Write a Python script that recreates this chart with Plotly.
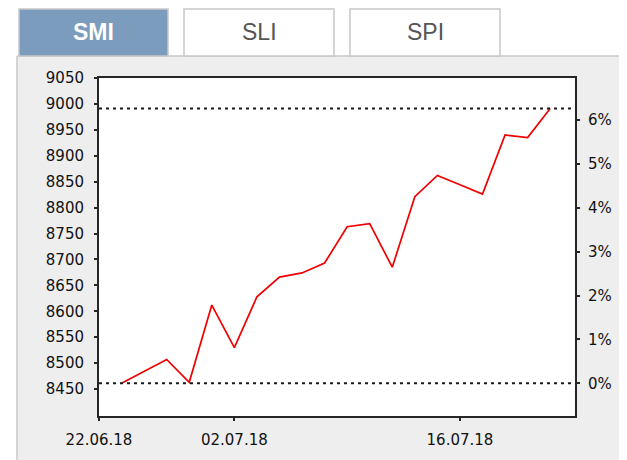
import plotly.graph_objects as go

# ---- data ----
axis_dates = ["22.06.18", "25.06.18", "26.06.18", "27.06.18", "28.06.18", "29.06.18",
              "02.07.18", "03.07.18", "04.07.18", "05.07.18", "06.07.18", "09.07.18",
              "10.07.18", "11.07.18", "12.07.18", "13.07.18", "16.07.18", "17.07.18",
              "18.07.18", "19.07.18", "20.07.18"]
close_dates = axis_dates[1:]
close_values = [8461, 8484, 8507, 8463, 8612, 8530, 8628, 8666, 8674, 8693, 8763,
                8769, 8685, 8821, 8862, 8844, 8826, 8940, 8935, 8991]
x_tick_labels = ["22.06.18", "02.07.18", "16.07.18"]
y_tick_values = list(range(8450, 9051, 50))
pct_tick_values = [0, 1, 2, 3, 4, 5, 6]
tabs = ["SMI", "SLI", "SPI"]

# ---- geometry helpers (page pixels; the page body has an 8px margin) ----
OFF = 8
W, H = 627, 460
PL, PR, PT, PB = 99, 575, 78, 416          # plot area in page pixels
ML, MT = PL - OFF, PT - OFF
MR, MB = W - (PR - OFF), H - (PB - OFF)
PW, PH = W - ML - MR, H - MT - MB


def px(x):
    return (x - OFF - ML) / PW


def py(y):
    return (H - MB - (y - OFF)) / PH


base = close_values[0]
y_range = [8398, 9050]
y2_range = [(v / base - 1) * 100 for v in y_range]
x_pos = [axis_dates.index(d) for d in close_dates]
pct = [(v / base - 1) * 100 for v in close_values]

fig = go.Figure()
fig.add_trace(go.Scatter(x=x_pos, y=close_values, mode="lines",
                         line=dict(color="#f00000", width=1.7), hoverinfo="skip",
                         showlegend=False))
fig.add_trace(go.Scatter(x=x_pos, y=pct, yaxis="y2", mode="lines",
                         line=dict(color="rgba(0,0,0,0)", width=0), hoverinfo="skip",
                         showlegend=False))

shapes = []
# white areas outside the panel
shapes.append(dict(type="rect", xref="paper", yref="paper", x0=px(0), x1=px(W + 20),
                   y0=py(56), y1=py(0), fillcolor="white", line=dict(width=0), layer="below"))
shapes.append(dict(type="rect", xref="paper", yref="paper", x0=px(0), x1=px(17),
                   y0=py(H + 20), y1=py(56), fillcolor="white", line=dict(width=0), layer="below"))
# panel border
shapes.append(dict(type="line", xref="paper", yref="paper", x0=px(17), x1=px(W + 20),
                   y0=py(56), y1=py(56), line=dict(color="#c8c8c8", width=1.5)))
shapes.append(dict(type="line", xref="paper", yref="paper", x0=px(17), x1=px(17),
                   y0=py(56), y1=py(H + 20), line=dict(color="#c8c8c8", width=1.5)))
# tabs
tab_x = [(19, 168), (184, 334), (350, 500)]
annotations = []
for i, (name, (a, b)) in enumerate(zip(tabs, tab_x)):
    sel = i == 0
    shapes.append(dict(type="rect", xref="paper", yref="paper", x0=px(a), x1=px(b),
                       y0=py(56), y1=py(9),
                       fillcolor="#7b9cbd" if sel else "white",
                       line=dict(color="#c8c8c8", width=1.5)))
    annotations.append(dict(xref="paper", yref="paper", x=px((a + b) / 2), y=py(32),
                            text=f"<b>{name}</b>" if sel else name, showarrow=False,
                            xanchor="center", yanchor="middle",
                            font=dict(family="Liberation Sans, Arial", size=23,
                                      color="white" if sel else "#555555")))
# dotted reference lines at min and max
for v in (min(close_values), max(close_values)):
    shapes.append(dict(type="line", xref="paper", yref="y", x0=0, x1=1, y0=v, y1=v,
                       line=dict(color="#1a1a1a", width=2, dash="3px,4px")))

tick_font = dict(family="DejaVu Sans", size=15, color="#111111")
frame = "#262626"

fig.update_layout(
    width=W, height=H,
    margin=dict(l=ML, r=MR, t=MT, b=MB, pad=0),
    paper_bgcolor="#eeeeee", plot_bgcolor="white",
    showlegend=False,
    shapes=shapes, annotations=annotations,
    xaxis=dict(range=[0, 21.1], tickmode="array",
               tickvals=[axis_dates.index(d) for d in x_tick_labels],
               ticktext=x_tick_labels, showgrid=False, zeroline=False,
               showline=True, mirror=True, linecolor=frame, linewidth=2,
               ticks="outside", ticklen=3, tickwidth=2, tickcolor=frame,
               tickfont=tick_font, ticklabelstandoff=6),
    yaxis=dict(range=y_range, tickmode="array", tickvals=y_tick_values,
               ticktext=[str(v) for v in y_tick_values], showgrid=False, zeroline=False,
               showline=True, mirror=True, linecolor=frame, linewidth=2,
               ticks="outside", ticklen=3, tickwidth=2, tickcolor=frame,
               tickfont=tick_font, ticklabelstandoff=7),
    yaxis2=dict(range=y2_range, overlaying="y", side="right", tickmode="array",
                tickvals=pct_tick_values, ticktext=[f"{v}%" for v in pct_tick_values],
                showgrid=False, zeroline=False, showline=True, linecolor=frame,
                linewidth=2, ticks="outside", ticklen=3, tickwidth=2,
                tickcolor=frame, tickfont=tick_font, ticklabelstandoff=5),
)

fig.write_html("out.html")
